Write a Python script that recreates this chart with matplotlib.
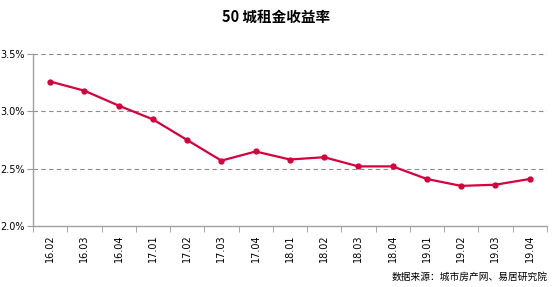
import matplotlib
matplotlib.use("Agg")
import matplotlib.pyplot as plt
import numpy as np

plt.rcParams['font.family'] = ['Noto Sans CJK SC', 'DejaVu Sans']

categories = ["16.02", "16.03", "16.04", "17.01", "17.02", "17.03", "17.04", "18.01",
              "18.02", "18.03", "18.04", "19.01", "19.02", "19.03", "19.04"]
values = [3.26, 3.18, 3.05, 2.93, 2.75, 2.57, 2.65, 2.58, 2.60, 2.52, 2.52, 2.41, 2.35, 2.36, 2.41]
yticks = [2.0, 2.5, 3.0, 3.5]
ytick_labels = ["2.0%", "2.5%", "3.0%", "3.5%"]
title = "50 城租金收益率"
source = "数据来源：城市房产网、易居研究院"

fig = plt.figure(figsize=(5.53, 2.87), dpi=100)
ax = fig.add_axes([0.0597, 0.2125, 0.929, 0.5993])

x = np.arange(len(categories))
ax.plot(x, values, color="#D6003C", lw=1.6, marker="o", ms=3.5, zorder=3)

ax.set_xlim(-0.5, len(categories) - 0.5)
ax.set_ylim(2.0, 3.5)
ax.set_yticks(yticks)
ax.set_yticklabels(ytick_labels, fontsize=7, family=['DejaVu Sans'])
for y in yticks[1:]:
    ax.axhline(y, color="#8C8C8C", lw=0.8, ls=(0, (4, 3)), zorder=1)

ax.set_xticks(x)
ax.set_xticklabels(categories, rotation=90, fontsize=7, family=['DejaVu Sans'])
ax.set_xticks(np.arange(-0.5, len(categories)), minor=True)
ax.tick_params(axis="x", which="major", length=0, pad=6)
ax.tick_params(axis="x", which="minor", length=4, color="#9A9A9A", direction="out")
ax.tick_params(axis="y", length=4, color="#9A9A9A", direction="out", pad=2)

for s in ["top", "right"]:
    ax.spines[s].set_visible(False)
for s in ["left", "bottom"]:
    ax.spines[s].set_color("#A0A0A0")
    ax.spines[s].set_linewidth(1.0)

fig.text(0.5, 0.94, title, ha="center", va="center", fontsize=10.5, fontweight="bold")
fig.text(0.99, 0.035, source, ha="right", va="center", fontsize=7)

fig.savefig("out.png", dpi=100)
